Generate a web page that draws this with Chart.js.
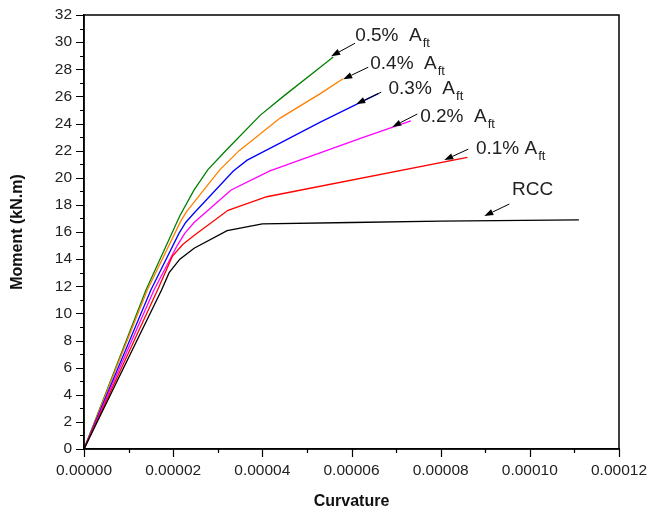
<!DOCTYPE html>
<html>
<head>
<meta charset="utf-8">
<script src="https://cdn.jsdelivr.net/npm/chart.js@4.4.1/dist/chart.umd.min.js"></script>
<style>
  html, body { margin: 0; padding: 0; background: #fff; }
  #wrap { width: 649px; height: 514px; position: relative; }
</style>
</head>
<body>
<div id="wrap"><canvas id="c" width="649" height="514"></canvas></div>
<script>
// ---------- DATA ----------
const seriesNames = ["RCC", "0.1% A_ft", "0.2% A_ft", "0.3% A_ft", "0.4% A_ft", "0.5% A_ft"];

const curvatureRCC = [0, 0.0000174, 0.0000191, 0.0000215, 0.0000247, 0.0000321, 0.0000400, 0.0000600, 0.0000800, 0.0001110];
const momentRCC    = [0, 11.73,     13.0,      14.0,      14.8,      16.1,      16.6,      16.7,      16.8,      16.9];

const curvature01 = [0, 0.0000165, 0.0000198, 0.0000222, 0.0000249, 0.0000323, 0.0000410, 0.0000860];
const moment01    = [0, 11.73,     14.2,      15.1,      15.8,      17.6,      18.6,      21.5];

const curvature02 = [0, 0.0000157, 0.0000209, 0.0000226, 0.0000247, 0.0000330, 0.0000417, 0.0000620, 0.0000733];
const moment02    = [0, 11.73,     15.0,      15.9,      16.7,      19.1,      20.5,      22.9,      24.2];

const curvature03 = [0, 0.0000150, 0.0000213, 0.0000228, 0.0000247, 0.0000335, 0.0000366, 0.0000431, 0.0000530, 0.0000660];
const moment03    = [0, 11.73,     15.9,      16.7,      17.4,      20.5,      21.3,      22.4,      24.1,      26.2];

const curvature04 = [0, 0.0000142, 0.0000217, 0.0000230, 0.0000247, 0.0000305, 0.0000348, 0.0000440, 0.0000530, 0.0000581];
const moment04    = [0, 11.73,     16.8,      17.5,      18.2,      20.6,      22.0,      24.4,      26.2,      27.3];

const curvature05 = [0, 0.0000139, 0.0000215, 0.0000247, 0.0000278, 0.0000321, 0.0000395, 0.0000447, 0.0000530, 0.0000559];
const moment05    = [0, 11.73,     17.2,      19.1,      20.6,      22.1,      24.6,      26.0,      28.15,     28.9];

const xTickValues = [0, 0.00002, 0.00004, 0.00006, 0.00008, 0.00010, 0.00012];
const yTickValues = [0, 2, 4, 6, 8, 10, 12, 14, 16, 18, 20, 22, 24, 26, 28, 30, 32];

// Annotation labels: main text, subscript, text anchor, arrow from/to (data units)
const annoText  = ["0.5%  A", "0.4%  A", "0.3%  A", "0.2%  A", "0.1% A", "RCC"];
const annoSub   = ["ft", "ft", "ft", "ft", "ft", ""];
const annoTextX = [6.083e-5, 6.42e-5, 6.83e-5, 7.54e-5, 8.79e-5, 9.60e-5];
const annoTextY = [30.09, 28.0, 26.14, 24.08, 21.74, 18.73];
const arrowFromX = [6.08e-5, 6.375e-5, 6.667e-5, 7.475e-5, 8.62e-5, 9.54e-5];
const arrowFromY = [29.92, 28.15, 26.31, 24.7, 22.11, 18.06];
const arrowToX   = [5.544e-5, 5.814e-5, 6.106e-5, 6.914e-5, 8.081e-5, 8.979e-5];
const arrowToY   = [28.96, 27.27, 25.43, 23.75, 21.3, 17.18];

// ---------- styles ----------
const colors = ["#000000", "#ff0000", "#ff00ff", "#0000ff", "#ff8000", "#008000"];
const FONT = "'Liberation Sans', Arial, Helvetica, sans-serif";

const xs = [curvatureRCC, curvature01, curvature02, curvature03, curvature04, curvature05];
const ys = [momentRCC, moment01, moment02, moment03, moment04, moment05];

const datasets = xs.map((xArr, i) => ({
  label: seriesNames[i],
  data: xArr.map((x, j) => ({ x: x, y: ys[i][j] })),
  borderColor: colors[i],
  backgroundColor: colors[i],
  borderWidth: 1.3,
  pointRadius: 0,
  tension: 0,
  fill: false
}));

const framePlugin = {
  id: 'frameAndMinor',
  afterDraw(chart) {
    const ctx = chart.ctx;
    const a = chart.chartArea;
    const xS = chart.scales.x, yS = chart.scales.y;
    ctx.save();
    ctx.strokeStyle = '#000';
    ctx.lineWidth = 1.5;
    ctx.beginPath();
    ctx.rect(a.left, a.top, a.right - a.left, a.bottom - a.top);
    ctx.stroke();
    ctx.lineWidth = 1.2;
    ctx.beginPath();
    for (let i = 0; i < xTickValues.length; i++) {
      const px = Math.round(xS.getPixelForValue(xTickValues[i])) + 0.5;
      ctx.moveTo(px, a.bottom); ctx.lineTo(px, a.bottom + 8);
      if (i < xTickValues.length - 1) {
        const pm = Math.round(xS.getPixelForValue((xTickValues[i] + xTickValues[i + 1]) / 2)) + 0.5;
        ctx.moveTo(pm, a.bottom); ctx.lineTo(pm, a.bottom + 4);
      }
    }
    for (let i = 0; i < yTickValues.length; i++) {
      const py = Math.round(yS.getPixelForValue(yTickValues[i])) + 0.5;
      ctx.moveTo(a.left, py); ctx.lineTo(a.left - 8, py);
      if (i < yTickValues.length - 1) {
        const pm = Math.round(yS.getPixelForValue((yTickValues[i] + yTickValues[i + 1]) / 2)) + 0.5;
        ctx.moveTo(a.left, pm); ctx.lineTo(a.left - 4, pm);
      }
    }
    ctx.stroke();
    ctx.restore();
  },
  afterDatasetsDraw(chart) {
    const ctx = chart.ctx;
    const xS = chart.scales.x, yS = chart.scales.y;
    ctx.save();
    for (let i = 0; i < annoText.length; i++) {
      const x1 = xS.getPixelForValue(arrowFromX[i]), y1 = yS.getPixelForValue(arrowFromY[i]);
      const x2 = xS.getPixelForValue(arrowToX[i]),   y2 = yS.getPixelForValue(arrowToY[i]);
      const ang = Math.atan2(y2 - y1, x2 - x1);
      const hl = 9, hw = 3.2;
      const bx = x2 - hl * Math.cos(ang), by = y2 - hl * Math.sin(ang);
      ctx.strokeStyle = '#000'; ctx.fillStyle = '#000'; ctx.lineWidth = 1;
      ctx.beginPath(); ctx.moveTo(x1, y1); ctx.lineTo(bx, by); ctx.stroke();
      ctx.beginPath();
      ctx.moveTo(x2, y2);
      ctx.lineTo(bx + hw * Math.sin(ang), by - hw * Math.cos(ang));
      ctx.lineTo(bx - hw * Math.sin(ang), by + hw * Math.cos(ang));
      ctx.closePath(); ctx.fill();
      const tx = xS.getPixelForValue(annoTextX[i]), ty = yS.getPixelForValue(annoTextY[i]);
      ctx.fillStyle = '#222';
      ctx.textBaseline = 'alphabetic';
      ctx.textAlign = 'left';
      ctx.font = '19px ' + FONT;
      ctx.fillText(annoText[i], tx, ty);
      if (annoSub[i]) {
        const w = ctx.measureText(annoText[i]).width;
        ctx.font = '13px ' + FONT;
        ctx.fillText(annoSub[i], tx + w + 1, ty + 6);
      }
    }
    ctx.restore();
  }
};

new Chart(document.getElementById('c'), {
  type: 'line',
  data: { datasets: datasets },
  options: {
    responsive: false,
    animation: false,
    layout: { padding: { left: 0, top: 15, right: 30, bottom: 0 } },
    plugins: { legend: { display: false }, tooltip: { enabled: false } },
    scales: {
      x: {
        type: 'linear',
        min: 0, max: 0.00012,
        afterBuildTicks(scale) { scale.ticks = xTickValues.map(v => ({ value: v })); },
        afterFit(scale) { scale.height = 65; scale.paddingLeft = 0; scale.paddingRight = 0; },
        ticks: {
          callback: (v) => Number(v).toFixed(5),
          color: '#222',
          font: { family: FONT, size: 15.5 },
          padding: 4,
          maxRotation: 0,
          autoSkip: false
        },
        grid: { display: true, drawOnChartArea: false, drawTicks: true, tickLength: 8, color: 'rgba(0,0,0,0)' },
        border: { display: true, color: '#000', width: 1.5 },
        title: {
          display: true, text: 'Curvature', color: '#111',
          font: { family: FONT, size: 16, weight: 'bold' },
          padding: { top: 4, bottom: 3 }
        }
      },
      y: {
        type: 'linear',
        min: 0, max: 32,
        afterBuildTicks(scale) { scale.ticks = yTickValues.map(v => ({ value: v })); },
        afterFit(scale) { scale.width = 84; scale.paddingTop = 0; scale.paddingBottom = 0; },
        ticks: {
          callback: (v) => String(v),
          color: '#222',
          font: { family: FONT, size: 15.5 },
          padding: 4,
          autoSkip: false
        },
        grid: { display: true, drawOnChartArea: false, drawTicks: true, tickLength: 8, color: 'rgba(0,0,0,0)' },
        border: { display: true, color: '#000', width: 1.5 },
        title: {
          display: true, text: 'Moment (kN.m)', color: '#111',
          font: { family: FONT, size: 16, weight: 'bold' },
          padding: { top: 8, bottom: 4 }
        }
      }
    }
  },
  plugins: [framePlugin]
});
</script>
</body>
</html>
